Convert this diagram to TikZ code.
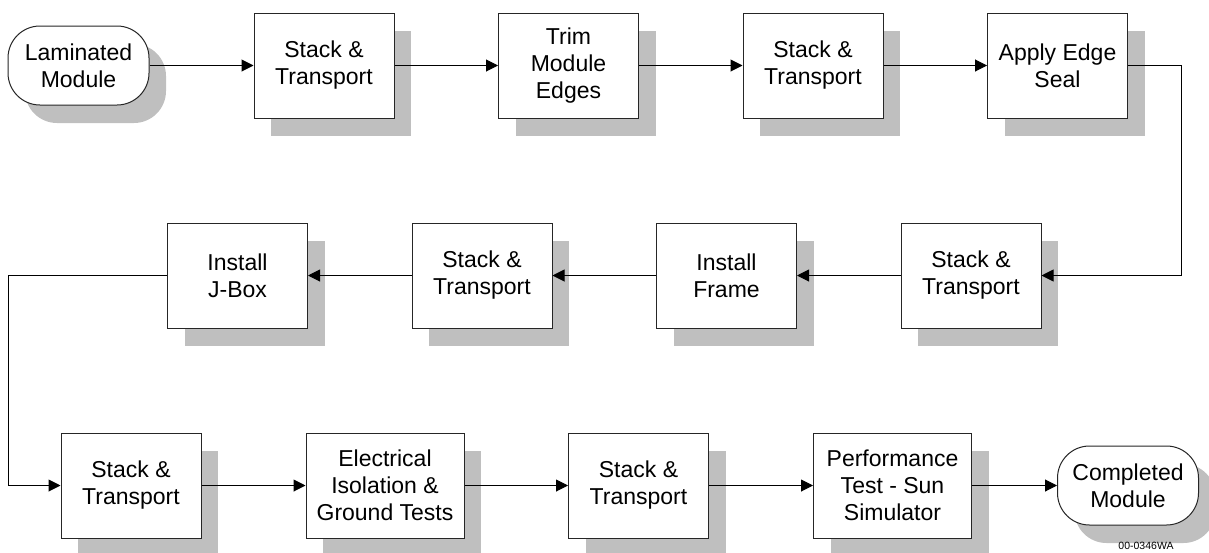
\documentclass[tikz,border=0pt]{standalone}
\usepackage{fontspec}
\setmainfont{Liberation Sans}
\usepackage{tikz}
\usetikzlibrary{positioning,shadows,arrows.meta}
\tikzstyle{block} = [rectangle, draw=black!85, fill=white, line width=1pt, align=center, minimum width=140pt, minimum height=105pt, font=\fontsize{23}{27}\selectfont, general shadow={fill=black!25, shadow xshift=17pt, shadow yshift=-18pt}]
\tikzstyle{wideblock} = [block, minimum width=158pt]
\tikzstyle{terminal} = [block, minimum width=141pt, minimum height=79pt, rounded corners=32pt]
\tikzstyle{arrow} = [line width=1pt, -{Triangle[length=12pt,width=12pt]}]

\begin{document}
\begin{tikzpicture}[x=1pt, y=-1pt, node distance=244.5pt]
		\useasboundingbox (0,0) rectangle (1209,552);
		
		\node (laminated) [terminal] at (78.5,65.5) {Laminated\\Module};
		\node (stackA) [block, right of=laminated, node distance=245.5pt] {Stack \&\\Transport};
		\node (trim) [block, right of=stackA] {Trim\\Module\\Edges};
		\node (stackB) [block, right of=trim] {Stack \&\\Transport};
		\node (seal) [block, right of=stackB] {Apply Edge\\Seal};
		
		\node (stackC) [block] at (971,275.5) {Stack \&\\Transport};
		\node (frame) [block, left of=stackC] {Install\\Frame};
		\node (stackD) [block, left of=frame] {Stack \&\\Transport};
		\node (jbox) [block, left of=stackD] {Install\\J-Box};
		
		\node (stackE) [block] at (131,485.5) {Stack \&\\Transport};
		\node (elec) [wideblock, right of=stackE, node distance=254pt] {Electrical\\Isolation \&\\Ground Tests};
		\node (stackF) [block, right of=elec, node distance=253.5pt] {Stack \&\\Transport};
		\node (perf) [wideblock, right of=stackF, node distance=254pt] {Performance\\Test - Sun\\Simulator};
		\node (completed) [terminal, right of=perf, node distance=235.5pt] {Completed\\Module};
		
		\node (code) at (1146,546) [font=\fontsize{10.5}{12}\selectfont] {00-0346WA};
		
		\coordinate (turnA) at (1181,65.5);
		\coordinate (turnB) at (8,275.5);
		
		\draw [arrow] (laminated) -- (stackA);
		\draw [arrow] (stackA) -- (trim);
		\draw [arrow] (trim) -- (stackB);
		\draw [arrow] (stackB) -- (seal);
		\draw [arrow] (seal) -- (turnA) |- (stackC);
		\draw [arrow] (stackC) -- (frame);
		\draw [arrow] (frame) -- (stackD);
		\draw [arrow] (stackD) -- (jbox);
		\draw [arrow] (jbox) -- (turnB) |- (stackE);
		\draw [arrow] (stackE) -- (elec);
		\draw [arrow] (elec) -- (stackF);
		\draw [arrow] (stackF) -- (perf);
		\draw [arrow] (perf) -- (completed);
		
	\end{tikzpicture}
\end{document}
